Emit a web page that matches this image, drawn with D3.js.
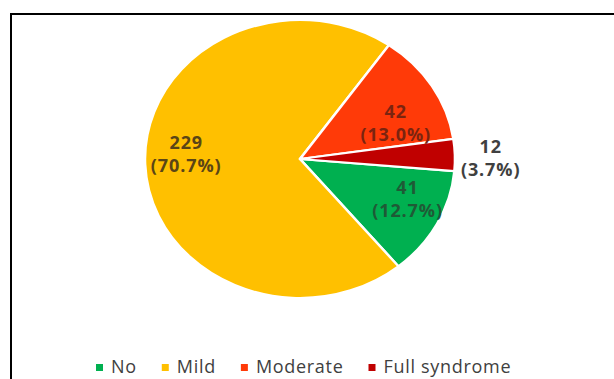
<!DOCTYPE html>
<html>
<head>
<meta charset="utf-8">
<script src="https://cdn.jsdelivr.net/npm/d3@7"></script>
<style>
  body { margin: 0; background: #fff; }
  svg { display: block; }
</style>
</head>
<body>
<div id="chart"></div>
<script>
// data
let categories = ["No", "Mild", "Moderate", "Full syndrome"];
let counts = [41, 229, 42, 12];
let colors = ["#00b050", "#ffc000", "#ff3a08", "#c00000"];

let W = 614, H = 379;
let cx = 300, cy = 159;
let rx = 155, ry = 139;

let svg = d3.select("#chart").append("svg")
  .attr("width", W)
  .attr("height", H);

// cropped frame (top + left edge only)
svg.append("path")
  .attr("d", "M11," + H + "V14H" + W)
  .attr("fill", "none")
  .attr("stroke", "#000")
  .attr("stroke-width", 2);

let total = d3.sum(counts);
let pct = d3.format(".1%");
let start = 95 * Math.PI / 180;

let pie = d3.pie().sort(null)
  .startAngle(start)
  .endAngle(start + 2 * Math.PI);
let arcs = pie(counts);

let arc = d3.arc().innerRadius(0).outerRadius(rx);

let g = svg.append("g")
  .attr("transform", "translate(" + cx + "," + cy + ") scale(1," + (ry / rx) + ")");

g.selectAll("path")
  .data(arcs)
  .enter()
  .append("path")
  .attr("d", arc)
  .attr("fill", (d, i) => colors[i])
  .attr("stroke", "#fff")
  .attr("stroke-width", 2.5)
  .attr("stroke-linejoin", "round");

// label placement: fraction along the slice, radial factor
let labelAt = [[0.38, 0.75], [0.52, 0.735], [0.69, 0.67], [0.6, 1.23]];
let labelFill = ["#1f5a36", "#5a4516", "#7a2410", "#404040"];

let labels = svg.selectAll(".lbl")
  .data(arcs)
  .enter()
  .append("text")
  .attr("class", "lbl")
  .attr("font-family", "'Open Sans', sans-serif")
  .attr("font-weight", "bold")
  .attr("font-size", 18)
  .attr("letter-spacing", 0.9)
  .attr("text-anchor", "middle")
  .attr("fill", (d, i) => labelFill[i])
  .attr("transform", (d, i) => {
    let a = d.startAngle + (d.endAngle - d.startAngle) * labelAt[i][0];
    let r = labelAt[i][1];
    let x = cx + Math.sin(a) * rx * r;
    let y = cy - Math.cos(a) * ry * r;
    return "translate(" + x + "," + y + ")";
  });

labels.append("tspan")
  .attr("x", 0)
  .attr("y", -5)
  .text((d) => d.data);

labels.append("tspan")
  .attr("x", 0)
  .attr("y", 18)
  .text((d) => "(" + pct(d.data / total) + ")");

// legend
let legend = svg.append("g").attr("transform", "translate(96,373)");
let lx = 0;
categories.forEach((c, i) => {
  let item = legend.append("g").attr("transform", "translate(" + lx + ",0)");
  item.append("rect")
    .attr("x", 0)
    .attr("y", -9)
    .attr("width", 7)
    .attr("height", 7)
    .attr("fill", colors[i]);
  let t = item.append("text")
    .attr("x", 15)
    .attr("font-family", "'Open Sans', sans-serif")
    .attr("font-size", 18)
    .attr("letter-spacing", 0.7)
    .attr("fill", "#404040")
    .text(c);
  lx += 15 + t.node().getComputedTextLength() + 25;
});
</script>
</body>
</html>
